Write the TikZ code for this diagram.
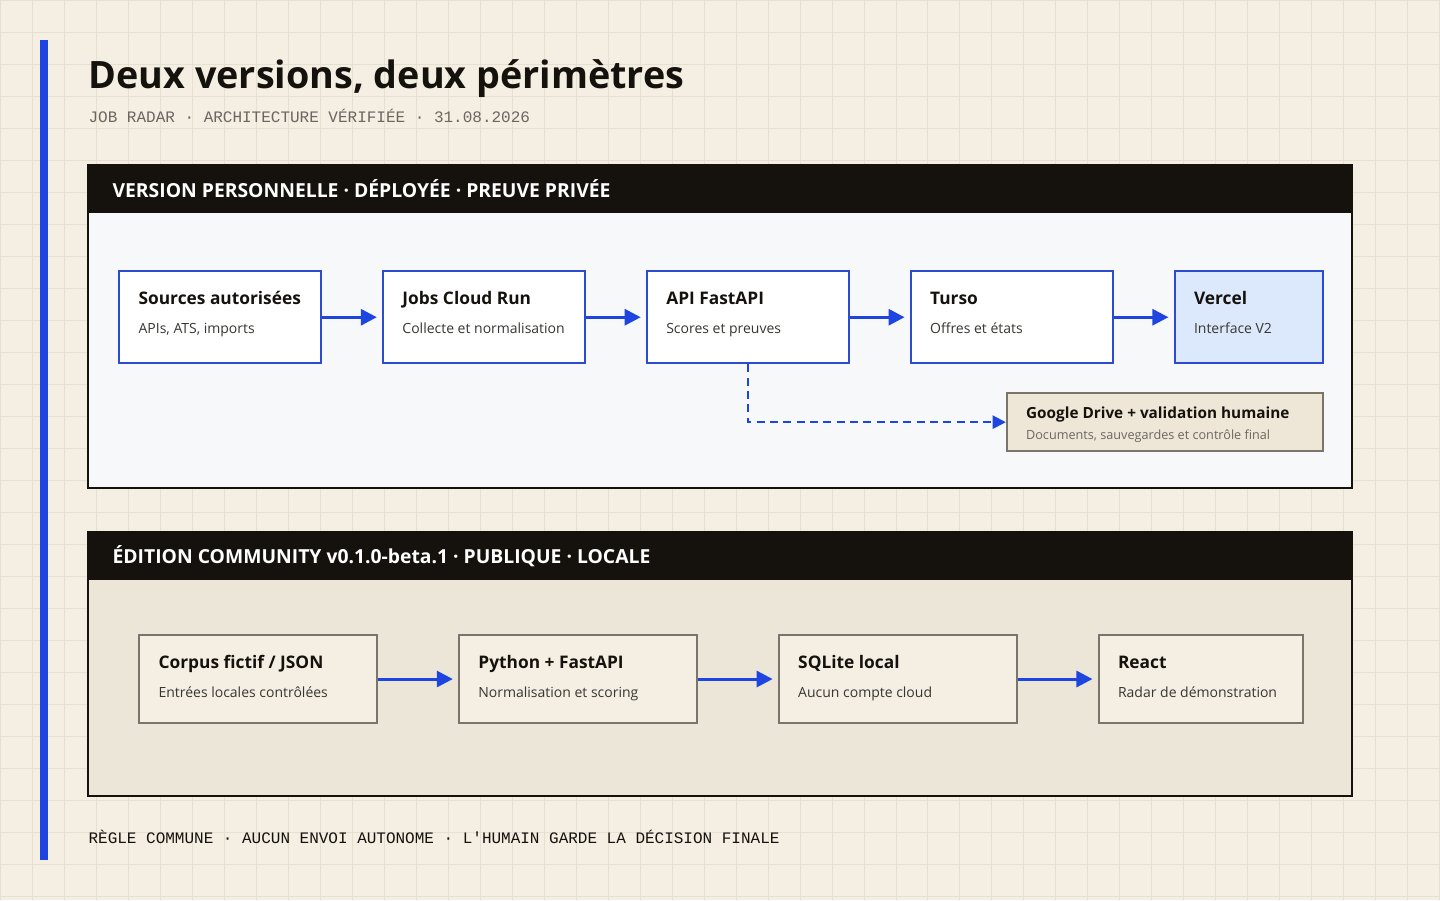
\documentclass[tikz,border=0pt]{standalone}
\usepackage{fontspec}
\setmainfont{Open Sans}
\setmonofont{Liberation Mono}
\usetikzlibrary{arrows.meta,positioning,calc}
\definecolor{fond}{HTML}{F4EFE2}
\definecolor{grille}{HTML}{E6E0D0}
\definecolor{encre}{HTML}{15120E}
\definecolor{bleu}{HTML}{1F45E0}
\definecolor{bordbleu}{HTML}{2D4BD0}
\definecolor{gris}{HTML}{7A756C}
\definecolor{texteg}{HTML}{6B6760}
\definecolor{clair}{HTML}{F7F8FA}
\definecolor{sable}{HTML}{ECE6D8}
\definecolor{vercel}{HTML}{DCE8FB}
\definecolor{drive}{HTML}{EEE6D6}
\tikzset{
  etape/.style={draw=bordbleu, line width=1.5pt, fill=white, anchor=north west, inner sep=0pt},
  locale/.style={draw=gris, line width=1.5pt, fill=fond, anchor=north west, inner sep=0pt},
  titre/.style={anchor=base west, inner sep=0pt, font=\fontsize{13}{16}\selectfont\bfseries, text=encre},
  soustitre/.style={anchor=base west, inner sep=0pt, font=\fontsize{10.5}{13}\selectfont, text=encre!85},
  fleche/.style={-{Triangle[length=12pt,width=12pt]}, draw=bleu, line width=2.2pt, shorten >=4pt},
  entete/.style={anchor=base west, inner sep=0pt, font=\fontsize{14.5}{18}\selectfont\bfseries, text=white},
  mono/.style={anchor=base west, inner sep=0pt, font=\fontsize{12}{14}\selectfont\ttfamily},
}
% box: name, x, y, width, height, style, title, subtitle
\newcommand{\boite}[8]{%
  \node[#6, minimum width=#4*0.75pt, minimum height=#5*0.75pt] (#1) at (#2,#3) {};
  \node[titre] (#1-t) at ($(#1.north west)+(20,34)$) {#7};
  \node[soustitre] (#1-s) at ($(#1.north west)+(20,63)$) {#8};
}
\begin{document}
\begin{tikzpicture}[x=0.75pt, y=-0.75pt]
  % background and grid
  \fill[fond] (0,0) rectangle (1440,900);
  \foreach \i in {0,32,...,1440} \draw[grille, line width=0.6pt] (\i,0) -- (\i,900);
  \foreach \j in {0,32,...,900} \draw[grille, line width=0.6pt] (0,\j) -- (1440,\j);
  \useasboundingbox (0,0) rectangle (1440,900);
  \fill[bleu] (40,40) rectangle (48,860);

  % title
  \node[anchor=base west, inner sep=0pt, font=\fontsize{28.3}{32}\selectfont\bfseries, text=encre] (titre) at (88,88) {Deux versions, deux périmètres};
  \node[mono, text=texteg] (sous) at (88,122) {JOB RADAR · ARCHITECTURE VÉRIFIÉE · 31.08.2026};

  % personal version
  \draw[encre, line width=1.5pt, fill=clair] (88,165) rectangle (1352,488);
  \fill[encre] (88,165) rectangle (1352,213);
  \node[entete] (h1) at (112,197) {VERSION PERSONNELLE · DÉPLOYÉE · PREUVE PRIVÉE};
  \boite{sources}{118}{270}{202}{92}{etape}{Sources autorisées}{APIs, ATS, imports}
  \boite{jobs}{382}{270}{202}{92}{etape}{Jobs Cloud Run}{Collecte et normalisation}
  \boite{api}{646}{270}{202}{92}{etape}{API FastAPI}{Scores et preuves}
  \boite{turso}{910}{270}{202}{92}{etape}{Turso}{Offres et états}
  \boite{vercel}{1174}{270}{148}{92}{etape, fill=vercel}{Vercel}{Interface V2}
  \node[locale, fill=drive, minimum width=316*0.75pt, minimum height=58*0.75pt] (drive) at (1006,392) {};
  \node[titre, font=\fontsize{11.5}{14}\selectfont\bfseries] at ($(drive.north west)+(20,26)$) {Google Drive + validation humaine};
  \node[soustitre, font=\fontsize{9.5}{12}\selectfont, text=texteg] at ($(drive.north west)+(20,47)$) {Documents, sauvegardes et contrôle final};
  \draw[fleche] (sources) -- (jobs);
  \draw[fleche] (jobs) -- (api);
  \draw[fleche] (api) -- (turso);
  \draw[fleche] (turso) -- (vercel);
  \draw[-{Triangle[length=10pt,width=10pt]}, bleu, line width=1.5pt, dash pattern=on 6pt off 4pt] (api.south) |- (drive.west);

  % community edition
  \draw[encre, line width=1.5pt, fill=sable] (88,532) rectangle (1352,796);
  \fill[encre] (88,532) rectangle (1352,580);
  \node[entete] (h2) at (112,563) {ÉDITION COMMUNITY v0.1.0-beta.1 · PUBLIQUE · LOCALE};
  \boite{corpus}{138}{634}{238}{88}{locale}{Corpus fictif / JSON}{Entrées locales contrôlées}
  \boite{python}{458}{634}{238}{88}{locale}{Python + FastAPI}{Normalisation et scoring}
  \boite{sqlite}{778}{634}{238}{88}{locale}{SQLite local}{Aucun compte cloud}
  \boite{react}{1098}{634}{204}{88}{locale}{React}{Radar de démonstration}
  \draw[fleche] (corpus) -- (python);
  \draw[fleche] (python) -- (sqlite);
  \draw[fleche] (sqlite) -- (react);

  % footer
  \node[mono, text=encre] (regle) at (88,844) {RÈGLE COMMUNE · AUCUN ENVOI AUTONOME · L'HUMAIN GARDE LA DÉCISION FINALE};
\end{tikzpicture}
\end{document}
